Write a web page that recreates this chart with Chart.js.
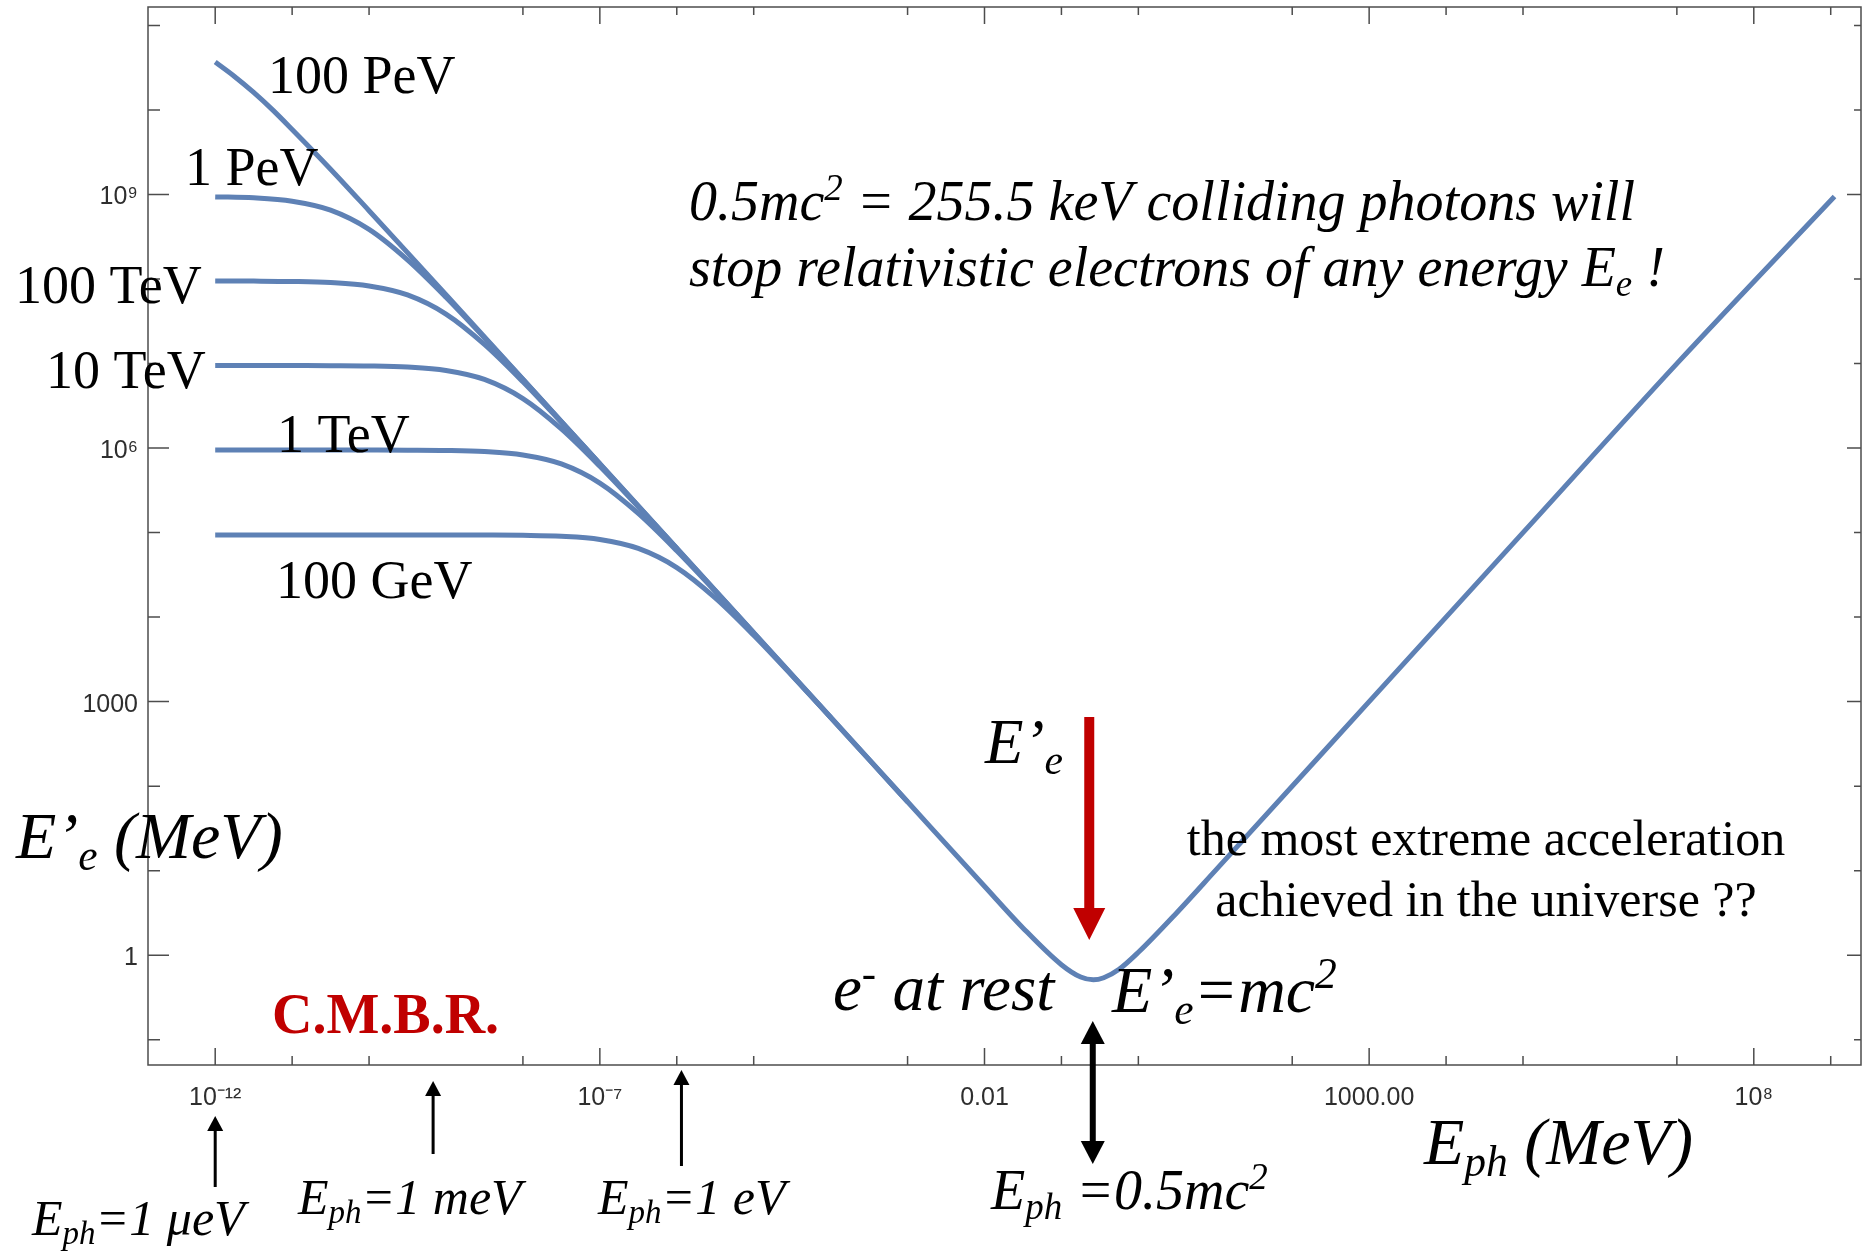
<!DOCTYPE html>
<html>
<head>
<meta charset="utf-8">
<script src="https://cdn.jsdelivr.net/npm/chart.js@4"></script>
<style>
  html, body { margin: 0; padding: 0; background: #fff; }
  canvas { display: block; }
</style>
</head>
<body>
<canvas id="chart" width="1863" height="1253"></canvas>
<script>
var chartCanvas = document.getElementById("chart");

// photon energy E_ph (MeV), half-decade steps from 1e-12 to 1e-3
var ephGrid = [1e-12, 3.16e-12, 1e-11, 3.16e-11, 1e-10, 3.16e-10, 1e-9, 3.16e-9, 1e-8, 3.16e-8,
               1e-7, 3.16e-7, 1e-6, 3.16e-6, 1e-5, 3.16e-5, 1e-4, 3.16e-4, 1e-3];

// E'_e (MeV), until each joins the envelope
var ee1PeV   = [9.4e8, 9.15e8, 8.35e8, 6.55e8, 3.88e8, 1.69e8, 6.1e7, 2.02e7, 6.49e6, 2.06e6, 6.52e5];
var ee100TeV = [9.5e7, 9.47e7, 9.38e7, 9.1e7, 8.3e7, 6.5e7, 3.86e7, 1.69e7, 6.1e6, 2.02e6, 6.49e5, 2.06e5, 6.52e4];
var ee10TeV  = [9.5e6, 9.5e6, 9.48e6, 9.45e6, 9.38e6, 9.1e6, 8.3e6, 6.5e6, 3.86e6, 1.69e6, 6.1e5, 2.02e5, 6.49e4, 2.06e4, 6520];
var ee1TeV   = [9.5e5, 9.5e5, 9.5e5, 9.5e5, 9.48e5, 9.45e5, 9.38e5, 9.1e5, 8.3e5, 6.5e5, 3.86e5, 1.69e5, 6.1e4, 2.02e4, 6490, 2060, 652];
var ee100GeV = [9.4e4, 9.4e4, 9.4e4, 9.4e4, 9.4e4, 9.4e4, 9.38e4, 9.35e4, 9.28e4, 9.05e4, 8.3e4, 6.5e4, 3.86e4, 1.69e4, 6100, 2020, 649, 206, 65.2];

// the 100 PeV curve, which runs across the whole plot
var ephMain = [1e-12, 1.78e-12, 3.16e-12, 5.62e-12, 1e-11, 3.16e-11, 1e-10, 3.16e-10, 1e-9, 1e-8, 1e-7, 1e-6, 1e-5, 1e-4, 1e-3,
               1e-2, 3.16e-2, 0.1, 0.178, 0.26, 0.355, 0.562, 1, 3.16, 10, 1e3, 1e5, 1e7, 1.12e9];
var eeMain  = [3.7e10, 2.5e10, 1.62e10, 1.0e10, 5.9e9, 2.0e9, 6.45e8, 2.06e8, 6.52e7, 6.53e6, 6.53e5, 6.53e4, 6530, 653, 65.3,
               6.54, 2.1, 0.77, 0.55, 0.51, 0.54, 0.68, 1.08, 3.18, 10, 1000, 1e5, 1e7, 9.5e8];

// tick labels (exponent -> text) and decades that carry a tick mark
var xTickExp = [-12, -7, -2, 3, 8];
var xTickText = ["10\u207b\u00b9\u00b2", "10\u207b\u2077", "0.01", "1000.00", "10\u2078"];
var yTickExp = [0, 3, 6, 9];
var yTickText = ["1", "1000", "10\u2076", "10\u2079"];
var xTickDecades = [-12, -11, -10, -8, -7, -6, -5, -3, -2, -1, 0, 2, 3, 4, 5, 7, 8, 9];
var yTickDecades = [-1, 0, 1, 2, 3, 4, 5, 6, 7, 8, 9, 10, 11];

// photon energies pointed at by the arrows under the axis
var arrowEph = [1e-12, 6.8e-10, 1.15e-6];
var halfMc2 = 0.2555;

var lineColor = "#5e81b5";
var serif = '"Liberation Serif", "Times New Roman", serif';

function curve(xs, ys) {
  return {
    data: ys.map(function (y, i) { return { x: xs[i], y: y }; }),
    borderColor: lineColor,
    borderWidth: 5,
    pointRadius: 0,
    fill: false,
    cubicInterpolationMode: "monotone"
  };
}

// text with sub/superscripts: segs = [[text, "n"|"sub"|"sup"], ...]
function rich(c, x, y, size, style, segs, align) {
  var items = segs.map(function (s) {
    var sz = s[1] === "n" ? size : size * 0.66;
    c.font = style + " " + sz + "px " + serif;
    return { t: s[0], k: s[1], sz: sz, w: c.measureText(s[0]).width };
  });
  var total = items.reduce(function (a, it) { return a + it.w; }, 0);
  var cx = align === "center" ? x - total / 2 : x;
  c.textBaseline = "alphabetic";
  c.textAlign = "left";
  items.forEach(function (it) {
    c.font = style + " " + it.sz + "px " + serif;
    var dy = it.k === "sub" ? size * 0.18 : (it.k === "sup" ? -size * 0.36 : 0);
    c.fillText(it.t, cx, y + dy);
    cx += it.w;
  });
}

function arrow(c, x, tail, tip, shaft, headLen, headHalf, color, both) {
  var dir = tip > tail ? 1 : -1;
  c.fillStyle = color;
  var s0 = both ? tail + dir * (headLen - 1) : tail;
  var s1 = tip - dir * (headLen - 1);
  c.fillRect(x - shaft / 2, Math.min(s0, s1), shaft, Math.abs(s1 - s0));
  function head(y, d) {
    c.beginPath();
    c.moveTo(x, y);
    c.lineTo(x - headHalf, y - d * headLen);
    c.lineTo(x + headHalf, y - d * headLen);
    c.closePath();
    c.fill();
  }
  head(tip, dir);
  if (both) head(tail, -dir);
}

var notesPlugin = {
  id: "notes",
  beforeDatasetsDraw: function (chart) {
    var c = chart.ctx, a = chart.chartArea;
    var xs = chart.scales.x, ys = chart.scales.y;
    c.save();
    c.strokeStyle = "#4d4d4d";
    c.lineWidth = 1.5;
    c.strokeRect(a.left, a.top, a.right - a.left, a.bottom - a.top);
    c.beginPath();
    xTickDecades.forEach(function (d) {
      var px = xs.getPixelForValue(Math.pow(10, d));
      var major = xTickExp.indexOf(d) >= 0;
      c.moveTo(px, a.bottom); c.lineTo(px, a.bottom - (major ? 17 : 9));
      c.moveTo(px, a.top); c.lineTo(px, a.top + (major ? 17 : 8));
    });
    yTickDecades.forEach(function (d) {
      var py = ys.getPixelForValue(Math.pow(10, d));
      var major = yTickExp.indexOf(d) >= 0;
      c.moveTo(a.left, py); c.lineTo(a.left + (major ? 21 : 12), py);
      c.moveTo(a.right, py); c.lineTo(a.right - (major ? 14 : 7), py);
    });
    c.stroke();
    c.restore();
  },
  afterDraw: function (chart) {
    var c = chart.ctx, xs = chart.scales.x;
    c.save();
    c.fillStyle = "#000";
    [["100 PeV", 268, 93], ["1 PeV", 185, 185], ["100 TeV", 15, 303],
     ["10 TeV", 46, 388], ["1 TeV", 277, 452], ["100 GeV", 276, 598]].forEach(function (t) {
      rich(c, t[1], t[2], 54, "normal", [[t[0], "n"]]);
    });
    rich(c, 689, 220, 56, "italic", [["0.5mc", "n"], ["2", "sup"], [" = 255.5 keV colliding photons will", "n"]]);
    rich(c, 689, 286, 56, "italic", [["stop relativistic electrons of any energy E", "n"], ["e", "sub"], [" !", "n"]]);
    rich(c, 16, 858, 66, "italic", [["E\u2019", "n"], ["e", "sub"], [" (MeV)", "n"]]);
    rich(c, 1424, 1164, 66, "italic", [["E", "n"], ["ph", "sub"], [" (MeV)", "n"]]);
    rich(c, 985, 763, 63, "italic", [["E\u2019", "n"], ["e", "sub"]]);
    rich(c, 833, 1010, 65, "italic", [["e", "n"], ["-", "sup"], [" at rest", "n"]]);
    rich(c, 1112, 1012, 66, "italic", [["E\u2019", "n"], ["e", "sub"], ["=mc", "n"], ["2", "sup"]]);
    rich(c, 991, 1209, 56, "italic", [["E", "n"], ["ph", "sub"], [" =0.5mc", "n"], ["2", "sup"]]);
    rich(c, 32, 1235, 50, "italic", [["E", "n"], ["ph", "sub"], ["=1 \u03bceV", "n"]]);
    rich(c, 298, 1214, 50, "italic", [["E", "n"], ["ph", "sub"], ["=1 meV", "n"]]);
    rich(c, 598, 1214, 50, "italic", [["E", "n"], ["ph", "sub"], ["=1 eV", "n"]]);
    rich(c, 1486, 855, 50, "normal", [["the most extreme acceleration", "n"]], "center");
    rich(c, 1486, 916, 50, "normal", [["achieved in the universe ??", "n"]], "center");
    c.fillStyle = "#c00000";
    rich(c, 272, 1033, 56, "bold", [["C.M.B.R.", "n"]]);

    arrow(c, xs.getPixelForValue(0.23), 717, 940, 10, 32, 16, "#c00000", false);
    arrow(c, xs.getPixelForValue(halfMc2), 1164, 1021, 6, 23, 12, "#000", true);
    var tips = [1116, 1081, 1070], tails = [1187, 1154, 1166];
    arrowEph.forEach(function (v, i) {
      arrow(c, xs.getPixelForValue(v), tails[i], tips[i], 3, 15, 8, "#000", false);
    });
    c.restore();
  }
};

function tickLabel(exps, texts) {
  return function (value) {
    var i = exps.indexOf(Math.round(Math.log10(value)));
    return i >= 0 ? texts[i] : "";
  };
}

var chartOptions = {
  responsive: false,
  devicePixelRatio: 1,
  animation: false,
  layout: { autoPadding: false, padding: { top: 7, right: 2, left: 0, bottom: 0 } },
  plugins: { legend: { display: false }, tooltip: { enabled: false } },
  scales: {
    x: {
      type: "logarithmic",
      bounds: "data",
      min: 1.338e-13,
      max: 2.475e9,
      grid: { display: false, drawTicks: false },
      border: { display: false },
      afterBuildTicks: function (s) {
        s.ticks = xTickDecades.map(function (d) { return { value: Math.pow(10, d) }; });
      },
      afterFit: function (s) {
        s.height = 188;
        s.paddingLeft = 0; s.paddingRight = 0; s.paddingTop = 0; s.paddingBottom = 0;
      },
      ticks: {
        autoSkip: false, maxRotation: 0, padding: 18, color: "#2e2e2e",
        font: { family: "Liberation Sans", size: 25 },
        callback: tickLabel(xTickExp, xTickText)
      }
    },
    y: {
      type: "logarithmic",
      bounds: "data",
      min: 0.0501,
      max: 1.66e11,
      grid: { display: false, drawTicks: false },
      border: { display: false },
      afterBuildTicks: function (s) {
        s.ticks = yTickDecades.map(function (d) { return { value: Math.pow(10, d) }; });
      },
      afterFit: function (s) {
        s.width = 148;
        s.paddingLeft = 0; s.paddingRight = 0; s.paddingTop = 0; s.paddingBottom = 0;
      },
      ticks: {
        autoSkip: false, padding: 10, labelOffset: 3, color: "#2e2e2e",
        font: { family: "Liberation Sans", size: 25 },
        callback: tickLabel(yTickExp, yTickText)
      }
    }
  }
};

var energyChart = new Chart(chartCanvas, {
  type: "line",
  data: {
    datasets: [
      curve(ephMain, eeMain),
      curve(ephGrid, ee1PeV),
      curve(ephGrid, ee100TeV),
      curve(ephGrid, ee10TeV),
      curve(ephGrid, ee1TeV),
      curve(ephGrid, ee100GeV)
    ]
  },
  options: chartOptions,
  plugins: [notesPlugin]
});
</script>
</body>
</html>
